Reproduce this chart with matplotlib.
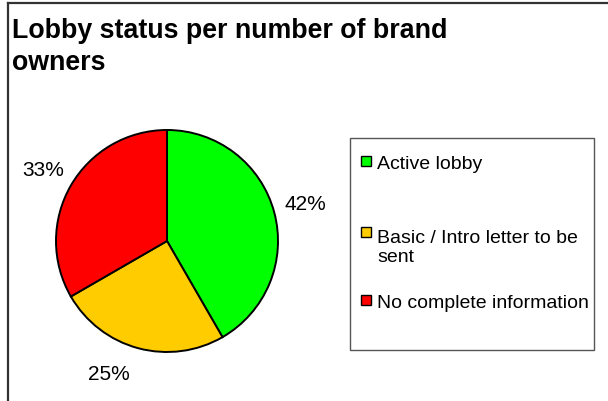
import matplotlib.pyplot as plt
from matplotlib.patches import Rectangle
from matplotlib.lines import Line2D

# brand owners per lobby status
labels = ['Active lobby', 'Basic / Intro letter to be\nsent', 'No complete information']
counts = [5, 3, 4]
colors = ['#00FF00', '#FFCC00', '#FF0000']
title = 'Lobby status per number of brand\nowners'

W, H = 608, 402

def fx(px):
    return px / W

def fy(py):
    return 1 - py / H

fig = plt.figure(figsize=(W / 100, H / 100), dpi=100)
fig.patch.set_facecolor('white')

# chart frame (top and left edges)
fig.add_artist(Line2D([fx(8), fx(608)], [fy(4), fy(4)], color='#333333', lw=1.6))
fig.add_artist(Line2D([fx(8), fx(8)], [fy(4), fy(402)], color='#333333', lw=1.6))

# baseline of the last line is used for multi-line text
fig.text(fx(12), fy(70), title, fontsize=19.3, fontweight='bold',
         family='Liberation Sans', va='baseline', ha='left', linespacing=1.3)

# pie, radius 111 px centred at (167, 242)
r = 111
half = 1.25 * r
ax = fig.add_axes([fx(167 - half), fy(242 + half), 2 * half / W, 2 * half / H])
wedges, texts, pcts = ax.pie(counts, colors=colors, startangle=90, counterclock=False,
                             autopct='%1.0f%%', pctdistance=1.29,
                             wedgeprops=dict(edgecolor='black', linewidth=1.4),
                             textprops=dict(fontsize=15, family='Liberation Sans',
                                            color='black'))
pcts[1].set_position((-0.52, -1.19))

# legend box
fig.add_artist(Rectangle((fx(350), fy(351)), (594 - 350) / W, (351 - 139) / H,
                         transform=fig.transFigure, fill=False,
                         edgecolor='#555555', lw=1))
marker_y = [162, 233, 301]
baselines = [169, 262, 308]
for lab, col, ym, yb in zip(labels, colors, marker_y, baselines):
    fig.add_artist(Rectangle((fx(361), fy(ym + 5)), 10 / W, 10 / H,
                             transform=fig.transFigure, facecolor=col,
                             edgecolor='black', lw=1))
    fig.text(fx(377), fy(yb), lab, fontsize=14, family='Liberation Sans',
             va='baseline', ha='left', linespacing=1.17, color='black')

fig.savefig('out.png', dpi=100)
